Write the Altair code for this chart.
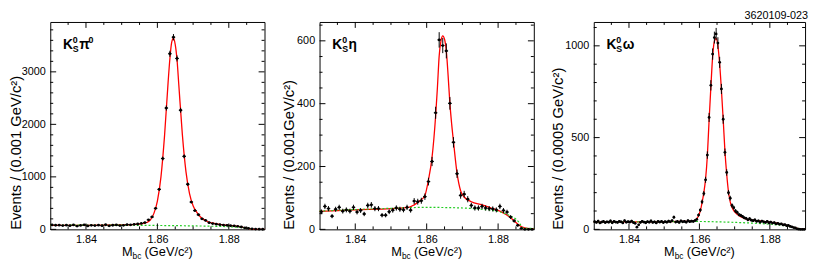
import altair as alt
import pandas as pd

FONT = "Liberation Sans"
X_DOMAIN = [1.83, 1.89]

# ---------------- data ----------------
x_major = [1.84, 1.86, 1.88]
x_minor = [1.835, 1.845, 1.85, 1.855, 1.865, 1.87, 1.875, 1.885]

# Panel 1 : K0S pi0, bins of 0.001 GeV/c2
p1_bin = 0.001
p1_counts = [85, 78, 80, 72, 79, 70, 84, 62, 74, 86,
             66, 76, 72, 80, 70, 88, 68, 78, 84, 72,
             76, 90, 86, 96, 102, 112, 130, 181, 236, 400,
             762, 1349, 2311, 3345, 3660, 3255, 2269, 1391, 859, 520,
             357, 278, 200, 170, 127, 110, 98, 90, 82, 76,
             70, 66, 58, 45, 30, 20, 10, 5, 3, 2]
p1_fit_x = [1.830, 1.840, 1.850, 1.855, 1.857, 1.858, 1.859, 1.860, 1.861, 1.862,
            1.863, 1.8635, 1.864, 1.8645, 1.865, 1.8655, 1.866, 1.867, 1.868, 1.869,
            1.870, 1.871, 1.872, 1.874, 1.876, 1.878, 1.880, 1.882, 1.884, 1.885,
            1.886, 1.8865, 1.887, 1.890]
p1_fit_y = [78, 78, 85, 100, 130, 175, 300, 540, 1000, 1780,
            2800, 3250, 3560, 3640, 3520, 3230, 2750, 1800, 1100, 680,
            450, 330, 240, 150, 112, 92, 75, 60, 38, 24,
            10, 4, 1, 0]
p1_bkg_x = [1.830, 1.840, 1.850, 1.860, 1.870, 1.875, 1.880, 1.883, 1.885, 1.886, 1.8865, 1.887]
p1_bkg_y = [82, 81, 79, 74, 66, 60, 50, 38, 24, 12, 4, 0]
p1_y_major = [0, 1000, 2000, 3000]
p1_y_minor = [v for v in range(200, 3900, 200) if v % 1000]
p1_ymax = 3950

# Panel 2 : K0S eta, bins of 0.001 GeV/c2
p2_bin = 0.001
p2_counts = [56, 73, 66, 42, 64, 70, 58, 62, 58, 70,
             55, 60, 49, 76, 78, 66, 66, 45, 45, 56,
             61, 68, 64, 62, 70, 61, 90, 88, 91, 104,
             152, 216, 371, 603, 585, 568, 401, 277, 177, 108,
             112, 96, 76, 68, 68, 73, 68, 66, 65, 62,
             73, 60, 55, 39, 27, 13, 3, 0, 0, 0]
p2_fit_x = [1.830, 1.840, 1.850, 1.855, 1.8565, 1.858, 1.8595, 1.8605, 1.8615, 1.8625,
            1.863, 1.8635, 1.864, 1.8645, 1.865, 1.8655, 1.866, 1.8665, 1.867, 1.8675,
            1.8685, 1.8695, 1.8705, 1.8725, 1.8755, 1.878, 1.8805, 1.8835, 1.8855, 1.8868,
            1.8882, 1.890]
p2_fit_y = [57, 62, 66, 70, 78, 90, 108, 158, 229, 360,
            450, 552, 600, 616, 605, 568, 490, 401, 335, 280,
            179, 123, 103, 88, 78, 68, 58, 37, 17, 7,
            3, 2]
p2_bkg_x = [1.830, 1.840, 1.850, 1.860, 1.870, 1.875, 1.880, 1.883, 1.885, 1.886, 1.8865, 1.887, 1.890]
p2_bkg_y = [58, 63, 67, 70, 68, 64, 57, 45, 32, 20, 10, 4, 3]
p2_y_major = [0, 200, 400, 600]
p2_y_minor = [v for v in range(50, 660, 50) if v % 200]
p2_ymax = 660

# Panel 3 : K0S omega, bins of 0.0005 GeV/c2
p3_bin = 0.0005
p3_counts = [42, 38, 45, 35, 40, 44, 37, 41, 39, 46,
             36, 43, 40, 38, 44, 41, 35, 47, 39, 42,
             40, 45, 37, 33, 12, 25, 38, 44, 40, 36,
             42, 39, 46, 38, 41, 35, 43, 40, 44, 37,
             42, 39, 45, 41, 48, 66, 40, 43, 38, 46,
             41, 44, 39, 47, 42, 45, 43, 48, 55, 78,
             105, 150, 195, 270, 405, 610, 785, 955, 1045, 1065,
             1015, 910, 765, 600, 420, 310, 200, 170, 130, 118,
             100, 92, 80, 76, 70, 63, 60, 52, 58, 50,
             47, 52, 44, 46, 40, 45, 41, 38, 44, 36,
             40, 34, 37, 30, 33, 28, 30, 24, 26, 20,
             22, 16, 14, 10, 8, 3, 1, 0, 0, 0]
p3_fit_x = [1.830, 1.845, 1.855, 1.858, 1.859, 1.8595, 1.86025, 1.86075, 1.86125, 1.86175,
            1.86225, 1.86275, 1.86325, 1.86375, 1.86425, 1.86475, 1.86525, 1.86575, 1.86625, 1.86675,
            1.86725, 1.86775, 1.86825, 1.86875, 1.86925, 1.870, 1.871, 1.872, 1.873, 1.875,
            1.878, 1.880, 1.882, 1.884, 1.885, 1.886, 1.887, 1.888, 1.8885, 1.890]
p3_fit_y = [40, 41, 43, 45, 52, 65, 100, 145, 200, 275,
            400, 595, 775, 940, 1025, 1040, 1000, 900, 760, 600,
            425, 300, 205, 150, 120, 95, 78, 66, 58, 50,
            44, 40, 34, 26, 21, 15, 9, 4, 1, 0]
p3_bkg_x = [1.830, 1.850, 1.860, 1.865, 1.870, 1.875, 1.880, 1.884, 1.886, 1.888, 1.889]
p3_bkg_y = [40, 42, 43, 41, 38, 34, 28, 20, 14, 5, 0]
p3_y_major = [0, 500, 1000]
p3_y_minor = [v for v in range(100, 1130, 100) if v % 500]
p3_ymax = 1130

y_titles = ["Events / (0.001 GeV/c²)", "Events / (0.001GeV/c²)", "Events / (0.0005 GeV/c²)"]
greek = ["π", "η", "ω"]
greek_sup = ["0", "", ""]
x_title = ["M", "bc", "(GeV/c²)"]
stamp = "3620109-023"

H = 211


def txt(s, x, y, size, bold=True, align="left"):
    return alt.Chart(pd.DataFrame({"t": [s]})).mark_text(
        font=FONT, fontSize=size, fontWeight="bold" if bold else "normal",
        align=align, baseline="middle", color="black"
    ).encode(x=alt.value(x), y=alt.value(y), text="t:N")


def panel(counts, bin_w, fx, fy, bx, by, ymax, ymaj, ymin, ytitle, g, gsup, W, E):
    xs = alt.Scale(domain=X_DOMAIN, nice=False, zero=False)
    ys = alt.Scale(domain=[0, ymax], nice=False, zero=False)
    xaxis = alt.Axis(values=x_major, format=".2f", ticks=False, tickSize=0, domain=False, grid=False,
                     labelPadding=4, labelFontSize=11, labelFont=FONT, labelColor="black",
                     labelFlush=False, title=None)
    yaxis = alt.Axis(values=ymaj, format="d", ticks=False, tickSize=0, domain=False, grid=False,
                     labelPadding=5, labelFontSize=11, labelFont=FONT, labelColor="black",
                     labelFlush=False, title=ytitle, titleFont=FONT, titleFontSize=15,
                     titleFontWeight="normal", titleColor="black", titleAnchor="start",
                     titlePadding=1, minExtent=E, maxExtent=E)

    def X(f):
        return alt.X(f, scale=xs, axis=xaxis)

    def Y(f):
        return alt.Y(f, scale=ys, axis=yaxis)

    centers = [round(X_DOMAIN[0] + bin_w * (i + 0.5), 6) for i in range(len(counts))]
    df = pd.DataFrame({"x": centers, "n": counts})
    base = alt.Chart(df).transform_calculate(
        lo="datum.n - sqrt(datum.n)", hi="datum.n + sqrt(datum.n)",
        xl=f"datum.x - {bin_w / 2}", xr=f"datum.x + {bin_w / 2}")

    fit = alt.Chart(pd.DataFrame({"x": fx, "y": fy})).mark_line(
        color="#ff0000", strokeWidth=1.3, interpolate="monotone").encode(x=X("x:Q"), y=Y("y:Q"))
    bkg = alt.Chart(pd.DataFrame({"x": bx, "y": by})).mark_line(
        color="#22cc22", strokeWidth=1.2, strokeDash=[2, 2], interpolate="monotone").encode(
        x=X("x:Q"), y=Y("y:Q"))
    vbar = base.mark_rule(color="black", strokeWidth=1).encode(x=X("x:Q"), y=Y("lo:Q"), y2="hi:Q")
    hbar = base.mark_rule(color="black", strokeWidth=1).encode(x=X("xl:Q"), x2="xr:Q", y=Y("n:Q"))
    pts = base.mark_circle(color="black", size=8, opacity=1).encode(x=X("x:Q"), y=Y("n:Q"))

    layers = [fit, bkg, vbar, hbar, pts]
    # inward ticks on all four sides
    for vals, L in ((x_major, 6), (x_minor, 3)):
        d = alt.Chart(pd.DataFrame({"v": vals}))
        layers.append(d.mark_rule(color="black", strokeWidth=1).encode(
            x=X("v:Q"), y=alt.value(H), y2=alt.value(H - L)))
        layers.append(d.mark_rule(color="black", strokeWidth=1).encode(
            x=X("v:Q"), y=alt.value(0), y2=alt.value(L)))
    for vals, L in ((ymaj, 6), (ymin, 3)):
        d = alt.Chart(pd.DataFrame({"v": vals}))
        layers.append(d.mark_rule(color="black", strokeWidth=1).encode(
            y=Y("v:Q"), x=alt.value(0), x2=alt.value(L)))
        layers.append(d.mark_rule(color="black", strokeWidth=1).encode(
            y=Y("v:Q"), x=alt.value(W), x2=alt.value(W - L)))

    # decay label K0S + greek
    layers += [txt("K", 13, 23, 14), txt("0", 23, 18, 9), txt("S", 23, 28, 9),
               txt(g, 29.5, 23.5, 14)]
    if gsup:
        layers.append(txt(gsup, 39, 18, 9))

    # x title  M_bc (GeV/c2)
    cx = W / 2
    layers += [txt(x_title[0], cx - 36, H + 23, 13, bold=False),
               txt(x_title[1], cx - 25.2, H + 27, 8.5, bold=False),
               txt(x_title[2], cx - 13, H + 23, 13, bold=False)]
    return alt.layer(*layers).properties(width=W, height=H)


c1 = panel(p1_counts, p1_bin, p1_fit_x, p1_fit_y, p1_bkg_x, p1_bkg_y, p1_ymax,
           p1_y_major, p1_y_minor, y_titles[0], greek[0], greek_sup[0], 218, 26)
c2 = panel(p2_counts, p2_bin, p2_fit_x, p2_fit_y, p2_bkg_x, p2_bkg_y, p2_ymax,
           p2_y_major, p2_y_minor, y_titles[1], greek[1], greek_sup[1], 218, 23)
c3 = panel(p3_counts, p3_bin, p3_fit_x, p3_fit_y, p3_bkg_x, p3_bkg_y, p3_ymax,
           p3_y_major, p3_y_minor, y_titles[2], greek[2], greek_sup[2], 215, 28)

chart = alt.hconcat(c1, c2, c3, spacing=12).properties(
    padding={"left": 0, "top": 0, "right": 0, "bottom": 0},
    title=alt.TitleParams(text=stamp, anchor="end", fontSize=11, font=FONT,
                          fontWeight="normal", color="black", offset=0),
).configure_view(stroke="black", strokeWidth=1)

chart.save("out.html", embed_options={"renderer": "svg", "actions": False})
